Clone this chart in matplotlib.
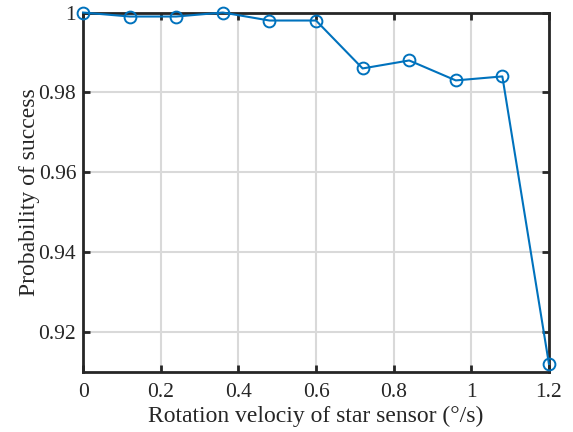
import matplotlib.pyplot as plt

plt.rcParams["font.family"] = ["Liberation Serif", "DejaVu Serif"]

velocity = [0, 0.12, 0.24, 0.36, 0.48, 0.6, 0.72, 0.84, 0.96, 1.08, 1.2]
success = [1.0, 0.999, 0.999, 1.0, 0.998, 0.998, 0.986, 0.988, 0.983, 0.984, 0.912]
xticks = [0, 0.2, 0.4, 0.6, 0.8, 1.0, 1.2]
xtick_labels = ["0", "0.2", "0.4", "0.6", "0.8", "1", "1.2"]
yticks = [0.92, 0.94, 0.96, 0.98, 1.0]
ytick_labels = ["0.92", "0.94", "0.96", "0.98", "1"]

fig = plt.figure(figsize=(5.73, 4.32), dpi=100)
ax = fig.add_axes([0.145, 0.139, 0.813, 0.832])

ax.plot(velocity, success, color="#0072BD", lw=1.5, marker="o",
        markersize=8.5, markerfacecolor="none", markeredgewidth=1.4,
        clip_on=False, zorder=3)

ax.set_xlim(0, 1.2)
ax.set_ylim(0.91, 1.0)
ax.set_xticks(xticks, xtick_labels)
ax.set_yticks(yticks, ytick_labels)
ax.grid(True, color="#d9d9d9", lw=1.5)
ax.set_axisbelow(True)

for s in ax.spines.values():
    s.set_linewidth(2)
    s.set_color("#262626")
ax.tick_params(direction="in", length=5, width=2, color="#262626",
               labelsize=15.5, labelcolor="#262626", top=True, right=True)
ax.tick_params(axis="x", pad=8)
ax.tick_params(axis="y", pad=5)

ax.set_xlabel("Rotation velociy of star sensor (°/s)", fontsize=17,
              color="#262626", labelpad=3)
ax.set_ylabel("Probability of success", fontsize=17, color="#262626", labelpad=-1)

fig.savefig("out.png", dpi=100)
